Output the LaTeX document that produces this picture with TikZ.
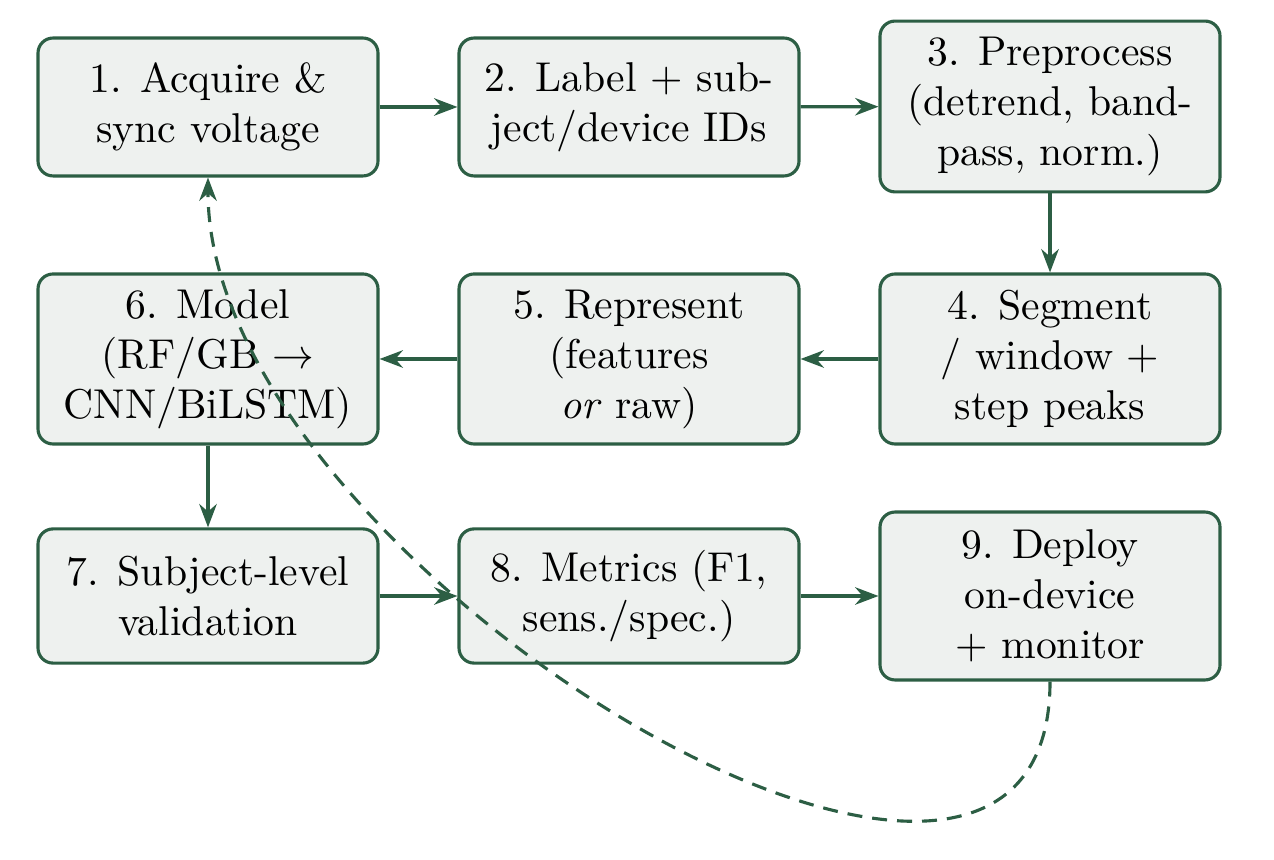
\documentclass[tikz,border=0pt]{standalone}
\usetikzlibrary{arrows.meta}
\definecolor{dg}{RGB}{44,94,68}
\definecolor{bf}{RGB}{238,241,239}
\begin{document}
\begin{tikzpicture}[x=0.24pt,y=-0.24pt,
  box/.style={draw=dg, fill=bf, line width=0.75pt, rounded corners=3.6pt,
    minimum width=81.6pt, align=center, inner sep=3pt,
    font=\fontsize{10}{12}\selectfont},
  conn/.style={draw=dg, line width=0.75pt, -{Stealth[length=5.6pt,width=4.2pt]}},
  loopback/.style={conn, dash pattern=on 3.6pt off 2.4pt}]
\useasboundingbox (0,0) rectangle (1274,860);
\node[box, minimum height=33.1pt] (n1) at (208,107) {1. Acquire \&\\sync voltage};
\node[box, minimum height=33.1pt] (n2) at (629,107) {2. Label + sub-\\ject/device IDs};
\node[box, minimum height=41pt] (n3) at (1050,106.5) {3. Preprocess\\(detrend, band-\\pass, norm.)};
\node[box, minimum height=40.8pt] (n4) at (1050,359) {4. Segment\\/ window +\\step peaks};
\node[box, minimum height=40.8pt] (n5) at (629,359) {5. Represent\\(features\\\emph{or} raw)};
\node[box, minimum height=40.8pt] (n6) at (208,359) {6. Model\\(RF/GB $\to$\\CNN/BiLSTM)};
\node[box, minimum height=32.2pt] (n7) at (208,596) {7. Subject-level\\validation};
\node[box, minimum height=32.2pt] (n8) at (629,596) {8. Metrics (F1,\\sens./spec.)};
\node[box, minimum height=40.3pt] (n9) at (1050,596) {9. Deploy\\on-device\\+ monitor};
\draw[conn] (n1) -- (n2);
\draw[conn] (n2) -- (n3);
\draw[conn] (n3) -- (n4);
\draw[conn] (n4) -- (n5);
\draw[conn] (n5) -- (n6);
\draw[conn] (n6) -- (n7);
\draw[conn] (n7) -- (n8);
\draw[conn] (n8) -- (n9);
\draw[loopback] (n9.south) .. controls +(0,388) and +(0,388) .. (n1.south);
\end{tikzpicture}
\end{document}
